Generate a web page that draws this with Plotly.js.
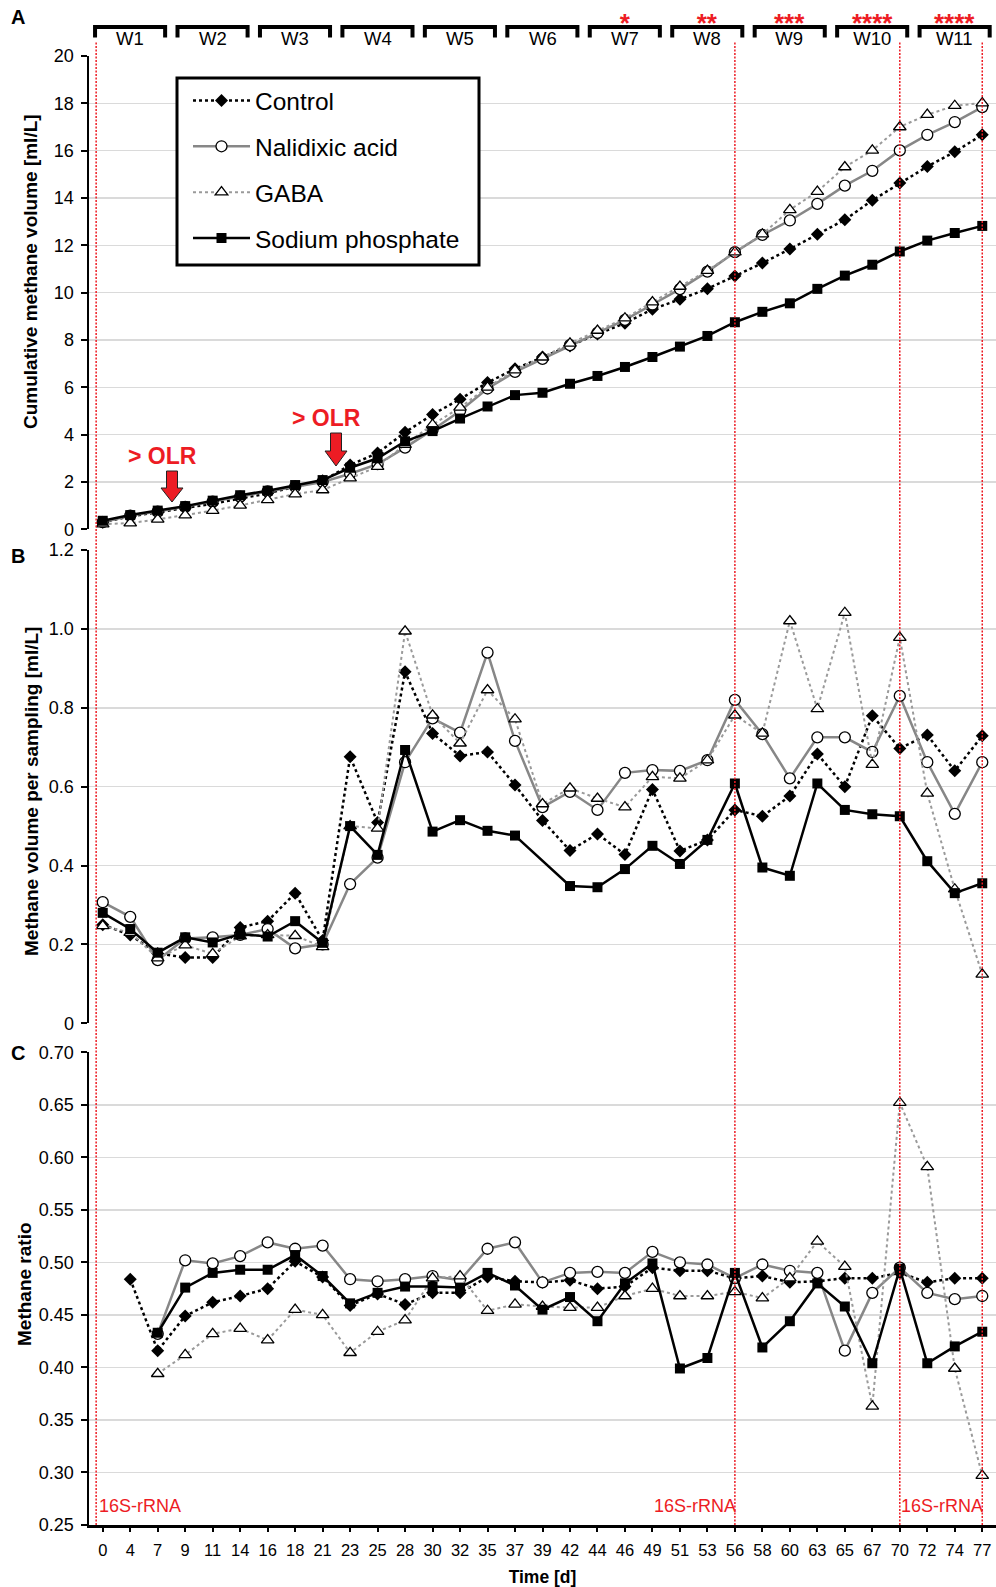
<!DOCTYPE html>
<html><head><meta charset="utf-8">
<script src="https://cdn.plot.ly/plotly-3.0.1.min.js"></script>
<style>html,body{margin:0;padding:0;background:#fff;}#chart{width:996px;height:1587px;}</style>
</head><body><div id="chart"></div>
<script>
// ---- data ----
const days = ['0','4','7','9','11','14','16','18','21','23','25','28','30','32','35','37','39','42','44','46','49','51','53','56','58','60','63','65','67','70','72','74','77'];
const weeks = ['W1','W2','W3','W4','W5','W6','W7','W8','W9','W10','W11'];
const weekStars = ['','','','','','','*','**','***','****','****'];
const seriesNames = ['Control','Nalidixic acid','GABA','Sodium phosphate'];
const rnaDays = ['56','70','77'];

// A: cumulative methane volume [ml/L]
const cumControl = [0.30,0.55,0.72,0.90,1.08,1.30,1.52,1.80,2.05,2.72,3.22,4.10,4.85,5.50,6.20,6.78,7.28,7.75,8.25,8.71,9.30,9.72,10.16,10.70,11.25,11.84,12.47,13.08,13.90,14.63,15.33,15.95,16.67];
const cumNalidixic = [0.30,0.58,0.75,0.95,1.17,1.38,1.60,1.80,2.00,2.35,2.75,3.45,4.20,5.00,5.95,6.65,7.20,7.78,8.30,8.85,9.50,10.15,10.89,11.71,12.44,13.05,13.75,14.52,15.15,16.01,16.67,17.21,17.84];
const cumGABA = [0.22,0.26,0.42,0.60,0.79,1.01,1.24,1.49,1.66,2.16,2.65,3.58,4.42,5.15,6.00,6.73,7.27,7.86,8.40,8.92,9.60,10.26,10.93,11.71,12.47,13.50,14.27,15.31,16.01,17.00,17.52,17.90,18.01];
const cumSodium = [0.36,0.60,0.79,0.98,1.21,1.44,1.63,1.87,2.08,2.60,3.00,3.72,4.15,4.68,5.19,5.67,5.77,6.15,6.48,6.86,7.28,7.72,8.17,8.75,9.19,9.55,10.16,10.72,11.18,11.74,12.20,12.52,12.82];

// B: methane volume per sampling [ml/L]
const sampControl = [0.250,0.224,0.177,0.167,0.167,0.243,0.259,0.330,0.210,0.676,0.509,0.891,0.735,0.678,0.688,0.604,0.514,0.438,0.480,0.428,0.593,0.437,0.465,0.541,0.525,0.576,0.683,0.600,0.780,0.697,0.731,0.640,0.729];
const sampNalidixic = [0.307,0.270,0.160,0.215,0.218,0.224,0.239,0.190,0.200,0.353,0.420,0.662,0.773,0.737,0.940,0.716,0.548,0.587,0.541,0.635,0.642,0.640,0.667,0.820,0.733,0.621,0.725,0.725,0.688,0.830,0.662,0.531,0.662];
const sampGABA = [0.247,0.230,0.165,0.198,0.176,0.221,0.224,0.222,0.194,0.500,0.494,0.994,0.781,0.710,0.845,0.771,0.556,0.596,0.570,0.548,0.625,0.621,0.667,0.781,0.735,1.020,0.797,1.041,0.656,0.978,0.583,0.340,0.124];
const sampSodium = [0.280,0.239,0.179,0.218,0.205,0.226,0.220,0.259,0.204,0.500,0.427,0.693,0.486,0.515,0.488,0.476,null,0.348,0.345,0.391,0.450,0.404,0.465,0.608,0.395,0.374,0.608,0.541,0.530,0.525,0.411,0.330,0.355];

// C: methane ratio
const ratioControl = [null,0.484,0.416,0.449,0.462,0.468,0.475,0.501,0.486,0.459,0.470,0.460,0.471,0.471,0.486,0.482,0.481,0.483,0.475,0.477,0.495,0.492,0.492,0.485,0.487,0.481,0.482,0.485,0.485,0.490,0.481,0.485,0.485];
const ratioNalidixic = [null,null,0.432,0.502,0.499,0.506,0.519,0.513,0.516,0.484,0.482,0.484,0.487,0.483,0.513,0.519,0.481,0.490,0.491,0.490,0.510,0.500,0.498,0.485,0.498,0.492,0.490,0.416,0.471,0.495,0.471,0.465,0.468];
const ratioGABA = [null,null,0.394,0.412,0.432,0.437,0.426,0.455,0.450,0.414,0.434,0.445,0.485,0.487,0.454,0.460,0.458,0.457,0.457,0.468,0.475,0.468,0.468,0.472,0.466,0.485,0.520,0.496,0.363,0.652,0.591,0.399,0.297];
const ratioSodium = [null,null,0.433,0.476,0.490,0.493,0.493,0.507,0.487,0.461,0.471,0.477,0.477,0.476,0.490,0.478,0.455,0.467,0.444,0.480,0.499,0.399,0.409,0.490,0.419,0.444,0.480,0.458,0.404,0.494,0.404,0.420,0.434];

// ---- layout geometry ----
const W = 996, H = 1587, ML = 89, MR = 0, MT = 56, MB = 62;
const PW = W - ML - MR, PH = H - MT - MB;
const px = p => (p - ML) / PW;
const py = p => (H - MB - p) / PH;
const FONT = 'Liberation Sans, Arial, Helvetica, sans-serif';
const RED = '#ed1c24';

const idx = days.map((d, i) => i);
const styles = [
  {line: {color: '#000', width: 2.5, dash: 'dot'}, marker: {symbol: 'diamond', size: 10, color: '#000'}},
  {line: {color: '#878787', width: 2.5}, marker: {symbol: 'circle', size: 11, color: '#fff', line: {color: '#000', width: 1.3}}},
  {line: {color: '#9a9a9a', width: 2, dash: 'dot'}, marker: {symbol: 'triangle-up', size: 11, color: '#fff', line: {color: '#000', width: 1.3}}},
  {line: {color: '#000', width: 2.5}, marker: {symbol: 'square', size: 10, color: '#000'}}
];
const panels = [
  {axis: 'y', data: [cumControl, cumNalidixic, cumGABA, cumSodium]},
  {axis: 'y2', data: [sampControl, sampNalidixic, sampGABA, sampSodium]},
  {axis: 'y3', data: [ratioControl, ratioNalidixic, ratioGABA, ratioSodium]}
];
const traces = [];
panels.forEach((p, pi) => {
  p.data.forEach((vals, si) => {
    traces.push({
      type: 'scatter', mode: 'lines+markers', x: idx, y: vals,
      name: seriesNames[si], legendgroup: 'g' + si, showlegend: pi === 0,
      xaxis: 'x', yaxis: p.axis, connectgaps: true, cliponaxis: false,
      line: styles[si].line, marker: styles[si].marker, hoverinfo: 'skip'
    });
  });
});

const yCommon = {
  showline: true, linecolor: '#000', linewidth: 2.5, ticks: 'outside', ticklen: 6, tickwidth: 2, tickcolor: '#000',
  showgrid: true, gridcolor: '#dadada', gridwidth: 1.5, zeroline: false, anchor: 'x',
  tickfont: {size: 18, color: '#000', family: FONT}, ticklabelstandoff: 3
};

const shapes = [];
const annotations = [];
function note(o) {
  annotations.push(Object.assign({showarrow: false, xanchor: 'center', yanchor: 'middle'}, o));
}
// week brackets + labels (with significance stars on a line above)
weeks.forEach((w, k) => {
  const x0 = 3 * k - 0.28, x1 = 3 * k + 2.27;
  shapes.push({type: 'path', xref: 'x', yref: 'paper', layer: 'above',
    path: `M ${x0},${py(37.5)} L ${x0},${py(27)} L ${x1},${py(27)} L ${x1},${py(37.5)}`,
    line: {color: '#000', width: 4}});
  const label = '<span style="font-size:18.5px">' + w + '</span>';
  const text = weekStars[k]
    ? '<span style="font-size:26px;color:' + RED + '"><b>' + weekStars[k] + '</b></span><br>' + label
    : label;
  note({xref: 'x', yref: 'paper', x: 3 * k + 1, y: py(50.5), yanchor: 'bottom', text: text,
    font: {size: 10, color: '#000', family: FONT}});
});
// red dotted sampling lines
const redLineX = [-0.24].concat(rnaDays.map(d => days.indexOf(d)));
redLineX.forEach(xv => shapes.push({type: 'line', xref: 'x', yref: 'paper', x0: xv, x1: xv, y0: 0, y1: py(41),
  layer: 'above', line: {color: RED, width: 1.5, dash: '2px,1.5px'}}));
note({xref: 'x', yref: 'paper', x: -0.22, y: py(1506), xanchor: 'left', text: '16S-rRNA', font: {size: 18, color: RED, family: FONT}});
note({xref: 'x', yref: 'paper', x: days.indexOf('56') + 0.12, y: py(1506), xanchor: 'right', text: '16S-rRNA', font: {size: 18, color: RED, family: FONT}});
note({xref: 'x', yref: 'paper', x: days.indexOf('70') - 0.02, y: py(1506), xanchor: 'left', text: '16S-rRNA', font: {size: 18, color: RED, family: FONT}});

// OLR arrows
function blockArrow(cx, top, shaftBottom, tip, sh, hh) {
  return `M ${px(cx - sh)},${py(top)} L ${px(cx + sh)},${py(top)} L ${px(cx + sh)},${py(shaftBottom)} L ${px(cx + hh)},${py(shaftBottom)} L ${px(cx)},${py(tip)} L ${px(cx - hh)},${py(shaftBottom)} L ${px(cx - sh)},${py(shaftBottom)} Z`;
}
shapes.push({type: 'path', xref: 'paper', yref: 'paper', layer: 'above', path: blockArrow(172, 471, 488, 502, 5.5, 11), fillcolor: RED, line: {color: '#222', width: 1}});
shapes.push({type: 'path', xref: 'paper', yref: 'paper', layer: 'above', path: blockArrow(336, 433, 451, 466, 5.5, 11), fillcolor: RED, line: {color: '#222', width: 1}});
note({xref: 'paper', yref: 'paper', x: px(162), y: py(456), text: '<b>&gt; OLR</b>', font: {size: 23, color: RED, family: FONT}});
note({xref: 'paper', yref: 'paper', x: px(326), y: py(418), text: '<b>&gt; OLR</b>', font: {size: 23, color: RED, family: FONT}});

// legend box
shapes.push({type: 'rect', xref: 'paper', yref: 'paper', layer: 'above', x0: px(177), x1: px(479), y0: py(78), y1: py(265),
  fillcolor: '#fff', line: {color: '#000', width: 3}});

// panel letters and y titles
[['A', 17], ['B', 556], ['C', 1053]].forEach(([t, yy]) => note({xref: 'paper', yref: 'paper', x: px(18), y: py(yy),
  text: '<b>' + t + '</b>', font: {size: 20, color: '#000', family: FONT}}));
[['Cumulative methane volume [ml/L]', 30, 272], ['Methane volume per sampling [ml/L]', 31, 792], ['Methane ratio', 24, 1284]].forEach(([t, xx, yy]) =>
  note({xref: 'paper', yref: 'paper', x: px(xx), y: py(yy), text: '<b>' + t + '</b>', textangle: -90,
    font: {size: 19, color: '#000', family: FONT}}));

const layout = {
  width: W, height: H, margin: {l: ML, r: MR, t: MT, b: MB},
  paper_bgcolor: '#fff', plot_bgcolor: '#fff',
  font: {family: FONT, color: '#000'},
  showlegend: true,
  legend: {x: px(188), y: py(78), xanchor: 'left', yanchor: 'top', bgcolor: 'rgba(0,0,0,0)', borderwidth: 0,
    font: {size: 24.5, color: '#000', family: FONT}, itemwidth: 57, tracegroupgap: 11, traceorder: 'grouped'},
  xaxis: {
    range: [-0.5, 32.5], tickmode: 'array', tickvals: idx, ticktext: days, anchor: 'y3',
    showline: true, linecolor: '#000', linewidth: 2.5, ticks: 'outside', ticklen: 4, tickwidth: 2, tickcolor: '#000',
    showgrid: false, zeroline: false, tickfont: {size: 16.5, color: '#000', family: FONT}, ticklabelstandoff: 5,
    title: {text: '<b>Time [d]</b>', font: {size: 17.5, color: '#000', family: FONT}, standoff: 13}
  },
  yaxis: Object.assign({}, yCommon, {domain: [py(529.3), 1], range: [0, 20], tickmode: 'array',
    tickvals: [0,2,4,6,8,10,12,14,16,18,20]}),
  yaxis2: Object.assign({}, yCommon, {domain: [py(1023.3), py(550)], range: [0, 1.2], tickmode: 'array',
    tickvals: [0,0.2,0.4,0.6,0.8,1.0,1.2], ticktext: ['0','0.2','0.4','0.6','0.8','1.0','1.2']}),
  yaxis3: Object.assign({}, yCommon, {domain: [0, py(1052.3)], range: [0.25, 0.70], tickmode: 'array',
    tickvals: [0.25,0.30,0.35,0.40,0.45,0.50,0.55,0.60,0.65,0.70], tickformat: '.2f'}),
  shapes: shapes, annotations: annotations
};
Plotly.newPlot('chart', traces, layout, {staticPlot: true, displayModeBar: false});
</script></body></html>
